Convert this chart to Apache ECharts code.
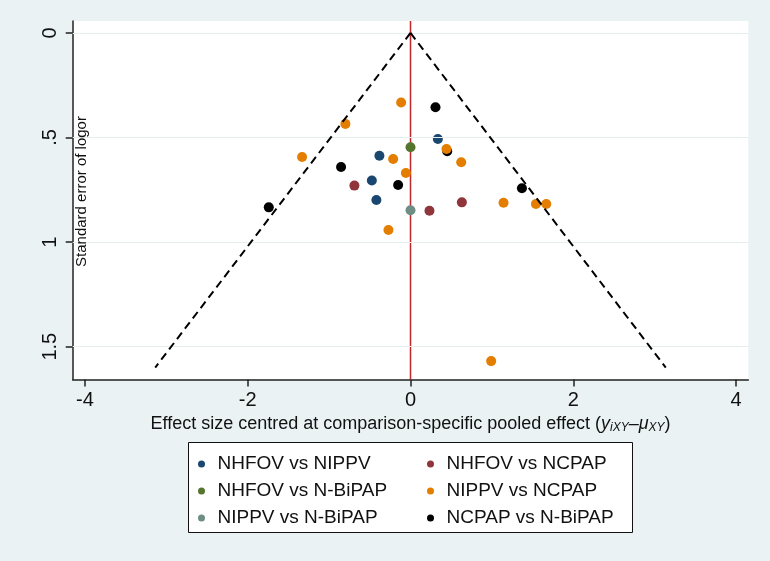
<!DOCTYPE html>
<html>
<head>
<meta charset="utf-8">
<script src="https://cdn.jsdelivr.net/npm/echarts@6/dist/echarts.min.js"></script>
<style>
html,body{margin:0;padding:0;background:#EAF2F3;}
#chart{width:770px;height:561px;}
</style>
</head>
<body>
<div id="chart"></div>
<script>
const categories = ['NHFOV vs NIPPV','NHFOV vs N-BiPAP','NIPPV vs N-BiPAP','NHFOV vs NCPAP','NIPPV vs NCPAP','NCPAP vs N-BiPAP'];
const colors = ['#1A476F','#55752F','#6E8E84','#90353B','#E37E00','#000000'];

const nhfovNippv = [[-0.382,0.587],[-0.475,0.706],[-0.419,0.799],[0.336,0.507]];
const nhfovNbipap = [[0,0.547]];
const nippvNbipap = [[0,0.848]];
const nhfovNcpap = [[-0.689,0.730],[0.631,0.810],[0.233,0.850]];
const nippvNcpap = [[-0.115,0.333],[-0.80,0.435],[-1.332,0.593],[-0.213,0.603],[-0.057,0.670],[-0.271,0.942],
                    [0.442,0.555],[0.623,0.618],[1.143,0.812],[1.541,0.818],[1.668,0.818],[0.991,1.569]];
const ncpapNbipap = [[-0.853,0.641],[-0.152,0.727],[-1.741,0.834],[0.307,0.355],[0.451,0.566],[1.369,0.743]];

const funnelLeft = [[0,0],[-3.136,1.6]];
const funnelRight = [[0,0],[3.136,1.6]];
const nullLine = [[0,-0.057],[0,1.657]];

const xTicks = [-4,-2,0,2,4];
const yTicks = [0,0.5,1,1.5];
const yTickLabels = ['0','.5','1','1.5'];
const yTitle = 'Standard error of logor';

const seriesData = [nhfovNippv, nhfovNbipap, nippvNbipap, nhfovNcpap, nippvNcpap, ncpapNbipap];

const font = '"Liberation Sans", Arial, sans-serif';
const chart = echarts.init(document.getElementById('chart'), null, {renderer:'canvas'});

const scatterSeries = categories.map((c,i)=>({
  name: c,
  type: 'scatter',
  data: seriesData[i],
  symbol: 'circle',
  symbolSize: 10,
  itemStyle: {color: colors[i], opacity: 1},
  z: c === 'NCPAP vs N-BiPAP' ? 3 : 4,
  silent: true
}));

const option = {
  animation: false,
  backgroundColor: '#EAF2F3',
  textStyle: {fontFamily: font},
  grid: {left: 72.7, right: 21.7, top: 21, bottom: 181.5, show: true, backgroundColor: '#FFFFFF', borderWidth: 0},
  xAxis: {
    type: 'value', min: -4.15, max: 4.15,
    splitLine: {show: false},
    axisLine: {show: true, onZero: false, lineStyle: {color: '#222', width: 1.5}},
    axisTick: {show: true, length: 7, customValues: xTicks, lineStyle: {color: '#222', width: 1.5}},
    axisLabel: {customValues: xTicks, fontSize: 20, color: '#111', margin: 11, fontFamily: font},
    name: 'Effect size centred at comparison-specific pooled effect ({it|y}{sub|iXY}{it|–μ}{sub|XY})',
    nameLocation: 'middle', nameGap: 32,
    nameTextStyle: {fontSize: 18, color: '#111', fontFamily: font,
      rich: {
        it: {fontSize: 18, fontStyle: 'italic', color: '#111', fontFamily: font},
        sub: {fontSize: 12, fontStyle: 'italic', color: '#111', fontFamily: font, padding: [7,0,0,0]}
      }}
  },
  yAxis: {
    type: 'value', inverse: true, min: -0.057, max: 1.657,
    splitLine: {show: false},
    axisLine: {show: true, onZero: false, lineStyle: {color: '#222', width: 1.5}},
    axisTick: {show: true, length: 7, customValues: yTicks, lineStyle: {color: '#222', width: 1.5}},
    axisLabel: {customValues: yTicks, rotate: 90, fontSize: 20, color: '#111', margin: 12, fontFamily: font,
      formatter: v => { const k = yTicks.findIndex(t => Math.abs(t - v) < 1e-9); return k >= 0 ? yTickLabels[k] : ''; }}
  },
  graphic: [{
    type: 'rect', left: 188, top: 442, z: 0,
    shape: {width: 444, height: 90},
    style: {fill: '#FFFFFF', stroke: '#111', lineWidth: 1}
  }, {
    type: 'text', x: 82, y: 191.5, rotation: Math.PI / 2, z: 20,
    style: {text: yTitle, fontSize: 15, fill: '#111', fontFamily: font, align: 'center', verticalAlign: 'middle'}
  }],
  legend: [
    {data: categories.slice(0,3), orient: 'vertical', left: 193, top: 449, itemWidth: 22, itemHeight: 7, itemGap: 7,
     icon: 'circle', textStyle: {fontSize: 19, lineHeight: 20, color: '#111', fontFamily: font}, selectedMode: false, z: 10},
    {data: categories.slice(3,6), orient: 'vertical', left: 422, top: 449, itemWidth: 22, itemHeight: 7, itemGap: 7,
     icon: 'circle', textStyle: {fontSize: 19, lineHeight: 20, color: '#111', fontFamily: font}, selectedMode: false, z: 10}
  ],
  series: [
    {
      name: 'null', type: 'line', data: nullLine, symbol: 'none', silent: true, z: 1,
      lineStyle: {color: '#C0282C', width: 1.5},
      markLine: {
        silent: true, symbol: 'none', label: {show: false}, animation: false,
        lineStyle: {color: '#E6EEEE', width: 1.2, type: 'solid'},
        data: yTicks.map(t => ({yAxis: t}))
      }
    },
    ...scatterSeries,
    {name: 'funnelL', type: 'line', data: funnelLeft, symbol: 'none', silent: true, z: 5,
     lineStyle: {color: '#000', width: 2, type: [8,5]}},
    {name: 'funnelR', type: 'line', data: funnelRight, symbol: 'none', silent: true, z: 5,
     lineStyle: {color: '#000', width: 2, type: [8,5]}}
  ]
};
chart.setOption(option);
</script>
</body>
</html>
